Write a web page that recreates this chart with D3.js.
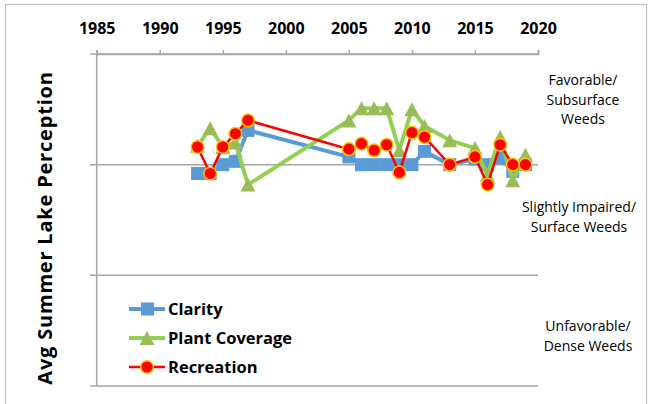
<!DOCTYPE html>
<html>
<head>
<meta charset="utf-8">
<script src="https://cdn.jsdelivr.net/npm/d3@7"></script>
<style>
  body { margin: 0; background: #fff; }
  svg { display: block; }
  text { font-family: "Open Sans", "Liberation Sans", sans-serif; }
</style>
</head>
<body>
<svg id="chart" width="654" height="404"></svg>
<script>
const years = [1993, 1994, 1995, 1996, 1997, 2005, 2006, 2007, 2008, 2009, 2010, 2011, 2013, 2015, 2016, 2017, 2018, 2019];
const clarity = [2.08, 2.08, 2.0, 1.97, 1.69, 1.93, 2.0, 2.0, 2.0, 2.0, 2.0, 1.88, 2.0, 1.95, 2.0, 1.94, 2.06, 2.0];
const plantCoverage = [1.83, 1.67, 1.84, 1.80, 2.18, 1.60, 1.49, 1.49, 1.49, 1.87, 1.50, 1.65, 1.78, 1.85, 2.09, 1.75, 2.14, 1.91];
const recreation = [1.84, 2.08, 1.84, 1.72, 1.60, 1.86, 1.81, 1.87, 1.82, 2.07, 1.71, 1.75, 2.0, 1.93, 2.18, 1.82, 2.0, 2.0];

const yearTicks = [1985, 1990, 1995, 2000, 2005, 2010, 2015, 2020];
const levelTicks = [1, 2, 3, 4];
const zoneLabels = [
    { lines: ['Favorable/', 'Subsurface', 'Weeds'] },
    { lines: ['Slightly Impaired/', 'Surface Weeds'] },
    { lines: ['Unfavorable/', 'Dense Weeds'] }
];
const seriesNames = ['Clarity', 'Plant Coverage', 'Recreation'];

const svg = d3.select('#chart');
const gray = '#a6a6a6';

const x = d3.scaleLinear().domain([1985, 2020]).range([96.7, 538]);
const y = d3.scaleLinear().domain([1, 4]).range([54, 386]);

// outer chart border
svg.append('rect')
    .attr('x', 5.5).attr('y', 4.5)
    .attr('width', 641).attr('height', 430)
    .attr('fill', 'none')
    .attr('stroke', '#bfbfbf')
    .attr('stroke-width', 1.2);

// horizontal gridlines + left tick marks
svg.append('g')
    .selectAll('line')
    .data(levelTicks)
    .enter()
    .append('line')
    .attr('x1', 90).attr('x2', x(2020))
    .attr('y1', (d) => y(d)).attr('y2', (d) => y(d))
    .attr('stroke', gray)
    .attr('stroke-width', 1.5);

// vertical axis line
svg.append('line')
    .attr('x1', x(1985)).attr('x2', x(1985))
    .attr('y1', y(1)).attr('y2', y(4))
    .attr('stroke', gray)
    .attr('stroke-width', 1.5);

// top axis
const xAxis = svg.append('g')
    .attr('transform', `translate(0, ${y(1)})`)
    .call(d3.axisTop(x).tickValues(yearTicks).tickFormat(d3.format('d')).tickSize(4).tickPadding(16));
xAxis.select('.domain').attr('stroke', gray).attr('stroke-width', 1.5);
xAxis.selectAll('.tick line').attr('stroke', gray).attr('stroke-width', 1.5);
xAxis.selectAll('.tick text')
    .attr('fill', '#000')
    .style('font-size', '16px')
    .style('font-weight', 'bold');

// y title
svg.append('text')
    .attr('transform', `translate(52, ${(y(1) + y(4)) / 2 + 8}) rotate(-90)`)
    .attr('text-anchor', 'middle')
    .style('font-size', '20px')
    .style('font-weight', 'bold')
    .style('letter-spacing', '0.8px')
    .attr('fill', '#000')
    .text('Avg  Summer Lake Perception');

// zone labels on the right (positioned per text box)
const zoneX = [583, 579, 588];
const zoneY = [80, 207, 326];
zoneLabels.forEach((z, k) => {
    svg.append('text')
        .attr('text-anchor', 'middle')
        .attr('fill', '#000')
        .style('font-size', '14px')
        .selectAll('tspan')
        .data(z.lines)
        .enter()
        .append('tspan')
        .attr('x', zoneX[k])
        .attr('y', (d, i) => zoneY[k] + 5 + i * 19.5)
        .text((d) => d);
});

const points = (vals) => years.map((yr, i) => [x(yr), y(vals[i])]);
const line = d3.line();

const triangle = (w, h) => `M0,${-h / 2}L${w / 2},${h / 2}L${-w / 2},${h / 2}Z`;

// Clarity
svg.append('path')
    .attr('d', line(points(clarity)))
    .attr('fill', 'none')
    .attr('stroke', '#5b9bd5')
    .attr('stroke-width', 4)
    .attr('stroke-linejoin', 'round');
svg.append('g')
    .selectAll('rect')
    .data(points(clarity))
    .enter()
    .append('rect')
    .attr('x', (d) => d[0] - 6.5).attr('y', (d) => d[1] - 6.5)
    .attr('width', 13).attr('height', 13)
    .attr('fill', '#5b9bd5');

// Plant Coverage
svg.append('path')
    .attr('d', line(points(plantCoverage)))
    .attr('fill', 'none')
    .attr('stroke', '#92d050')
    .attr('stroke-width', 4)
    .attr('stroke-linejoin', 'round');
svg.append('g')
    .selectAll('path')
    .data(points(plantCoverage))
    .enter()
    .append('path')
    .attr('transform', (d) => `translate(${d[0]}, ${d[1]})`)
    .attr('d', triangle(15, 14))
    .attr('fill', '#9bbb59');

// Recreation
svg.append('path')
    .attr('d', line(points(recreation)))
    .attr('fill', 'none')
    .attr('stroke', '#ff0000')
    .attr('stroke-width', 2.5);
svg.append('g')
    .selectAll('circle')
    .data(points(recreation))
    .enter()
    .append('circle')
    .attr('cx', (d) => d[0]).attr('cy', (d) => d[1])
    .attr('r', 6.3)
    .attr('fill', '#ff0000')
    .attr('stroke', '#ffc000')
    .attr('stroke-width', 1.5);

// legend
const legend = svg.append('g')
    .selectAll('g')
    .data(seriesNames)
    .enter()
    .append('g')
    .attr('transform', (d, i) => `translate(129, ${309 + i * 29})`);

legend.append('line')
    .attr('x1', 0).attr('x2', 36)
    .attr('stroke', (d, i) => ['#5b9bd5', '#92d050', '#ff0000'][i])
    .attr('stroke-width', (d, i) => i === 2 ? 2.5 : 4);

legend.each(function (d, i) {
    const g = d3.select(this);
    if (i === 0) {
        g.append('rect').attr('x', 12).attr('y', -6.5).attr('width', 13).attr('height', 13).attr('fill', '#5b9bd5');
    } else if (i === 1) {
        g.append('path').attr('transform', 'translate(18, 0)').attr('d', triangle(15, 14)).attr('fill', '#9bbb59');
    } else {
        g.append('circle').attr('cx', 18).attr('r', 6.3).attr('fill', '#ff0000').attr('stroke', '#ffc000').attr('stroke-width', 1.5);
    }
});

legend.append('text')
    .attr('x', 39)
    .attr('y', 6)
    .attr('fill', '#000')
    .style('font-size', '16.5px')
    .style('font-weight', 'bold')
    .text((d) => d);
</script>
</body>
</html>
